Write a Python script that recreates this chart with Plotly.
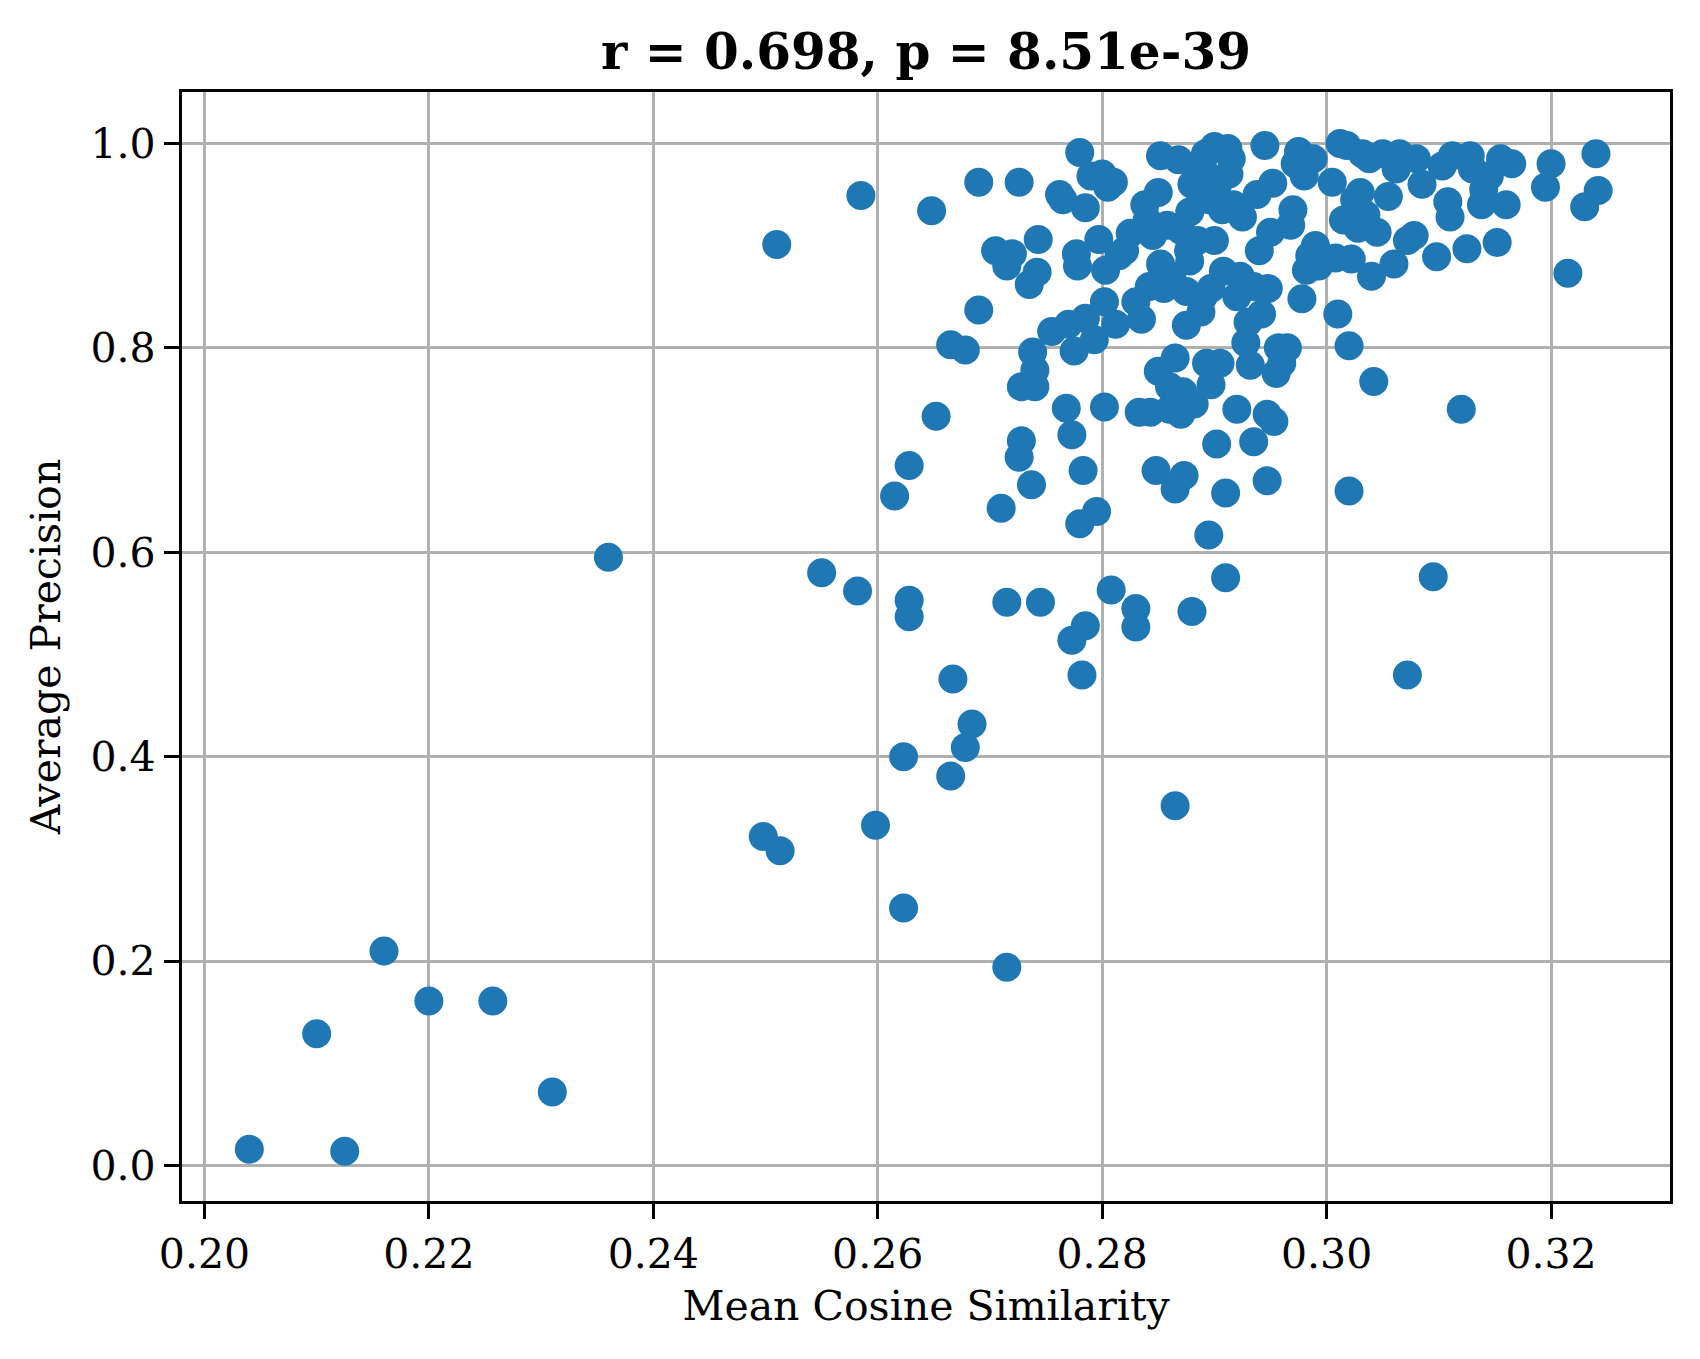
import plotly.graph_objects as go

# mean cosine similarity vs average precision
mean_cos_sim = [
    0.2040, 0.2125, 0.2100, 0.2160, 0.2200, 0.2257, 0.2310, 0.2360, 0.2498, 0.2513,
    0.2510, 0.2550, 0.2582, 0.2585, 0.2598, 0.2615, 0.2623, 0.2623, 0.2628, 0.2628,
    0.2628, 0.2648, 0.2652, 0.2665, 0.2665, 0.2667, 0.2678, 0.2678, 0.2684, 0.2690,
    0.2690, 0.2705, 0.2710, 0.2715, 0.2715, 0.2715, 0.2720, 0.2726, 0.2726, 0.2728,
    0.2728, 0.2735, 0.2737, 0.2738, 0.2740, 0.2740, 0.2742, 0.2743, 0.2745, 0.2755,
    0.2762, 0.2765, 0.2768, 0.2770, 0.2773, 0.2773, 0.2775, 0.2777, 0.2778, 0.2780,
    0.2780, 0.2782, 0.2783, 0.2785, 0.2785, 0.2785, 0.2790, 0.2793, 0.2795, 0.2797,
    0.2800, 0.2802, 0.2802, 0.2803, 0.2805, 0.2808, 0.2810, 0.2812, 0.2815, 0.2820,
    0.2825, 0.2830, 0.2830, 0.2830, 0.2833, 0.2835, 0.2838, 0.2840, 0.2842, 0.2843,
    0.2845, 0.2848, 0.2850, 0.2850, 0.2852, 0.2852, 0.2855, 0.2858, 0.2860, 0.2860,
    0.2862, 0.2865, 0.2865, 0.2865, 0.2868, 0.2870, 0.2870, 0.2872, 0.2873, 0.2875,
    0.2875, 0.2877, 0.2878, 0.2878, 0.2880, 0.2880, 0.2882, 0.2885, 0.2888, 0.2890,
    0.2890, 0.2892, 0.2893, 0.2895, 0.2895, 0.2897, 0.2897, 0.2900, 0.2900, 0.2902,
    0.2903, 0.2905, 0.2907, 0.2908, 0.2910, 0.2910, 0.2912, 0.2913, 0.2915, 0.2917,
    0.2920, 0.2920, 0.2923, 0.2925, 0.2928, 0.2930, 0.2932, 0.2935, 0.2935, 0.2938,
    0.2940, 0.2942, 0.2945, 0.2947, 0.2947, 0.2948, 0.2950, 0.2952, 0.2953, 0.2955,
    0.2957, 0.2960, 0.2965, 0.2968, 0.2970, 0.2972, 0.2975, 0.2978, 0.2980, 0.2982,
    0.2985, 0.2988, 0.2990, 0.2993, 0.3005, 0.3008, 0.3010, 0.3012, 0.3015, 0.3018,
    0.3020, 0.3020, 0.3022, 0.3025, 0.3028, 0.3030, 0.3032, 0.3035, 0.3038, 0.3040,
    0.3042, 0.3045, 0.3050, 0.3055, 0.3060, 0.3062, 0.3065, 0.3072, 0.3072, 0.3078,
    0.3080, 0.3085, 0.3095, 0.3098, 0.3103, 0.3108, 0.3110, 0.3112, 0.3120, 0.3125,
    0.3128, 0.3130, 0.3138, 0.3140, 0.3145, 0.3152, 0.3155, 0.3160, 0.3165, 0.3195,
    0.3200, 0.3215, 0.3230, 0.3240, 0.3242,
]
avg_precision = [
    0.016, 0.014, 0.129, 0.210, 0.161, 0.161, 0.072, 0.595, 0.322, 0.308,
    0.901, 0.580, 0.562, 0.949, 0.333, 0.655, 0.400, 0.252, 0.685, 0.553,
    0.537, 0.934, 0.733, 0.803, 0.381, 0.476, 0.798, 0.409, 0.432, 0.837,
    0.962, 0.895, 0.643, 0.551, 0.194, 0.880, 0.892, 0.962, 0.693, 0.709,
    0.762, 0.862, 0.666, 0.796, 0.778, 0.762, 0.874, 0.906, 0.551, 0.816,
    0.950, 0.945, 0.741, 0.823, 0.715, 0.514, 0.797, 0.892, 0.880, 0.628,
    0.991, 0.480, 0.680, 0.528, 0.829, 0.937, 0.968, 0.808, 0.640, 0.906,
    0.970, 0.845, 0.742, 0.876, 0.957, 0.563, 0.962, 0.823, 0.890, 0.895,
    0.912, 0.845, 0.527, 0.545, 0.737, 0.828, 0.940, 0.925, 0.860, 0.737,
    0.910, 0.680, 0.952, 0.777, 0.988, 0.882, 0.858, 0.920, 0.762, 0.740,
    0.870, 0.352, 0.662, 0.790, 0.984, 0.915, 0.735, 0.757, 0.675, 0.822,
    0.855, 0.895, 0.933, 0.885, 0.542, 0.960, 0.745, 0.905, 0.835, 0.850,
    0.975, 0.990, 0.785, 0.617, 0.945, 0.858, 0.764, 0.997, 0.905, 0.706,
    0.960, 0.785, 0.935, 0.875, 0.575, 0.658, 0.995, 0.970, 0.985, 0.940,
    0.740, 0.850, 0.870, 0.928, 0.805, 0.825, 0.783, 0.860, 0.708, 0.950,
    0.895, 0.833, 0.998, 0.670, 0.735, 0.858, 0.913, 0.961, 0.728, 0.775,
    0.800, 0.785, 0.800, 0.920, 0.935, 0.980, 0.992, 0.848, 0.968, 0.876,
    0.890, 0.985, 0.900, 0.880, 0.962, 0.888, 0.833, 1.000, 0.925, 0.998,
    0.660, 0.802, 0.887, 0.945, 0.917, 0.952, 0.990, 0.930, 0.985, 0.870,
    0.767, 0.913, 0.990, 0.948, 0.882, 0.975, 0.990, 0.480, 0.905, 0.910,
    0.985, 0.960, 0.576, 0.889, 0.978, 0.943, 0.928, 0.988, 0.740, 0.897,
    0.988, 0.975, 0.940, 0.955, 0.968, 0.903, 0.985, 0.940, 0.980, 0.957,
    0.980, 0.873, 0.938, 0.990, 0.954,
]

x_ticks = [0.20, 0.22, 0.24, 0.26, 0.28, 0.30, 0.32]
y_ticks = [0.0, 0.2, 0.4, 0.6, 0.8, 1.0]

serif = "DejaVu Serif"

# the page body adds an 8px offset, so everything is placed 8px up/left
L, R, T, B = 174, 38, 84, 166

fig = go.Figure()
fig.add_trace(go.Scatter(x=mean_cos_sim, y=avg_precision, mode='markers',
                         marker=dict(color='#1f77b4', size=29, line=dict(width=0)),
                         showlegend=False))

axis_style = dict(showline=True, linecolor='black', linewidth=3.3, mirror=True,
                  showgrid=True, gridcolor='#b0b0b0', gridwidth=3.3,
                  ticks='outside', ticklen=15, tickwidth=3.3, tickcolor='black',
                  zeroline=False, layer='above traces', automargin=False,
                  tickfont=dict(family=serif, size=41, color='black'))

fig.update_xaxes(range=[0.198, 0.3306], tickvals=x_ticks,
                 ticktext=['%.2f' % v for v in x_ticks],
                 title=dict(text='Mean Cosine Similarity', standoff=14,
                            font=dict(family=serif, size=41, color='black')),
                 **axis_style)
fig.update_yaxes(range=[-0.0347, 1.0503], tickvals=y_ticks,
                 ticktext=['%.1f' % v for v in y_ticks],
                 title=dict(text='Average Precision', standoff=18,
                            font=dict(family=serif, size=41, color='black')),
                 **axis_style)

fig.update_layout(width=1700, height=1359,
                  margin=dict(l=L, r=R, t=T, b=B, autoexpand=False),
                  plot_bgcolor='white', paper_bgcolor='white',
                  title=dict(text='<b>r = 0.698, p = 8.51e-39</b>',
                             x=(L + 1700 - R) / 2 / 1700, xanchor='center',
                             y=1 - 43 / 1359, yanchor='middle',
                             font=dict(family=serif, size=50, color='black')))

fig.write_html("out.html")
